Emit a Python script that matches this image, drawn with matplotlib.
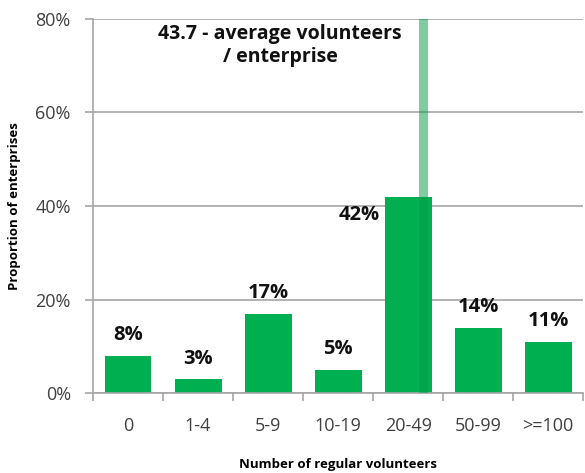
import matplotlib.pyplot as plt
import numpy as np

# data
categories = ["0", "1-4", "5-9", "10-19", "20-49", "50-99", ">=100"]
shares = [8, 3, 17, 5, 42, 14, 11]          # percent of enterprises
avg_volunteers = 43.7
avg_pos = 4.22                               # where the average line sits on the category axis

plt.rcParams['font.family'] = ['Open Sans', 'DejaVu Sans']

fig = plt.figure(figsize=(5.85, 4.73), dpi=100)
ax = fig.add_axes([0.159, 0.169, 0.838, 0.791])

x = np.arange(len(categories))
ax.bar(x, shares, width=0.67, color="#00b050", zorder=2)

# average marker: a thick translucent line
ax.bar(avg_pos, 80, width=0.14, color="#009a45", alpha=0.5, zorder=3, linewidth=0)

for xi, v in zip(x, shares):
    if categories[xi] == "20-49":
        ax.text(xi - 0.4, v - 1.8, f"{v}%", ha="right", va="top",
                fontsize=14.5, fontweight="bold", color="#111111")
    else:
        ax.text(xi, v + 2.2, f"{v}%", ha="center", va="bottom",
                fontsize=14.5, fontweight="bold", color="#111111")

ax.text(2.17, 74.3, f"{avg_volunteers} - average volunteers\n/ enterprise", ha="center",
        va="center", fontsize=14, fontweight="bold", color="#111111", linespacing=1.2)

ax.set_xlim(-0.5, len(categories) - 0.5)
ax.set_ylim(0, 80)
ax.set_yticks([0, 20, 40, 60, 80])
ax.set_yticklabels([f"{t}%" for t in [0, 20, 40, 60, 80]], fontsize=13, color="#404040")
ax.yaxis.grid(True, color="#a6a6a6", linewidth=1.2, zorder=0)
ax.set_axisbelow(True)

ax.set_xticks(x)
ax.set_xticklabels(categories, fontsize=13, color="#404040")
ax.tick_params(axis="x", length=0, pad=17)
ax.set_xticks(np.arange(-0.5, len(categories), 1), minor=True)
ax.tick_params(axis="x", which="minor", length=6, color="#a6a6a6", width=1.2)
ax.tick_params(axis="y", length=6, color="#a6a6a6", width=1.2, pad=10)

for side in ["top", "right"]:
    ax.spines[side].set_visible(False)
for side in ["left", "bottom"]:
    ax.spines[side].set_color("#a6a6a6")
    ax.spines[side].set_linewidth(1.2)

ax.set_xlabel("Number of regular volunteers", fontsize=9.5, fontweight="bold", labelpad=17)
ax.set_ylabel("Proportion of enterprises", fontsize=9.5, fontweight="bold", labelpad=10)

plt.savefig("out.png")
